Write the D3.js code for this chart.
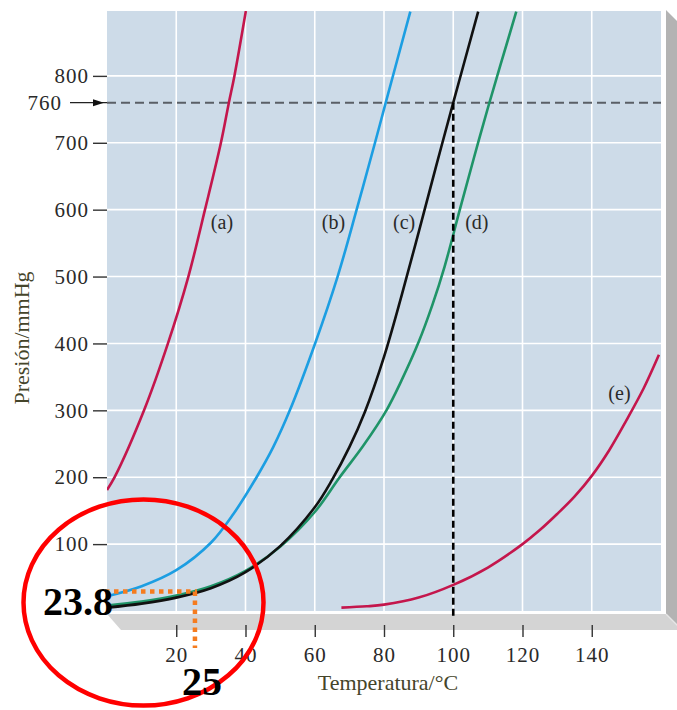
<!DOCTYPE html>
<html>
<head>
<meta charset="utf-8">
<script src="https://cdn.jsdelivr.net/npm/d3@7"></script>
<style>
  html, body { margin: 0; padding: 0; background: #ffffff; }
  svg { display: block; }
</style>
</head>
<body>
<div id="chart"></div>
<script>
// ---------- data ----------
const xTicks = [20, 40, 60, 80, 100, 120, 140];
const yTicks = [100, 200, 300, 400, 500, 600, 700, 800];
const refPressure = 760;        // normal atmospheric pressure
const refTemp = 100;            // boiling point of curve (c)

const tempA = [0, 2.2, 10.7, 17.6, 23.5, 28.3, 32.9, 35.2, 36.8, 40.1];
const presA = [181, 200, 300, 400, 500, 600, 700, 760, 800, 897];

const tempB = [0, 10, 20, 30, 36.5, 43.2, 48, 52.8, 60.1, 66.6, 72.1, 77.4, 80.5, 87.6];
const presB = [22, 37, 61, 102, 145, 200, 245, 300, 400, 500, 600, 700, 760, 896];

const tempC = [0, 10, 20, 30, 40, 50, 60, 65, 70, 74.5, 80, 85, 90, 95, 100, 107.2];
const presC = [5, 11, 20, 34, 58, 97, 155, 196, 245, 298, 380, 470, 566, 664, 760, 896];

const tempD = [0, 10, 20, 30, 40, 50, 60, 67.2, 74, 80.7, 85, 90, 94, 97.5, 101.9, 106, 110, 118.2];
const presD = [8, 14, 23, 37, 60, 96, 148, 200, 247, 300, 344, 402, 458, 515, 600, 678, 752, 896];

const tempE = [67.7, 75, 80, 90, 100, 110, 120, 125, 130, 135, 140, 145, 150, 155, 159.4];
const presE = [5, 7, 9.5, 20, 39, 65, 100, 121, 145, 171, 202, 240, 285, 333, 383];

const seriesLabels = ["(a)", "(b)", "(c)", "(d)", "(e)"];
const labelTemp = [33.2, 65.4, 85.8, 106.8, 148];
const labelPres = [581, 581, 581, 581, 326];

const markTemp = 25.4, markPres = 29;   // annotated point
const markPresText = "23.8", markTempText = "25";

const yTitle = "Presión/mmHg";
const xTitle = "Temperatura/°C";

// ---------- layout ----------
const W = 677, H = 710;
const serif = "'Liberation Serif','Times New Roman',Times,serif";

const x = d3.scaleLinear().domain([0, 160]).range([107, 661]);
const y = d3.scaleLinear().domain([0, 900]).range([611, 9]);

const svg = d3.select("#chart").append("svg")
  .attr("width", W).attr("height", H);

const px0 = x(0), px1 = x(160), pyTop = y(897), pyBot = y(0);

// 3D box: floor and right wall
svg.append("polygon")
  .attr("points", [[px0, pyBot + 3], [px1 + 5, pyBot + 3], [px1 + 21, pyBot + 19], [px0 + 14, pyBot + 19]].map(p => p.join(",")).join(" "))
  .attr("fill", "#d4d4d4");
svg.append("polygon")
  .attr("points", [[px1 + 5, pyTop - 1], [px1 + 21, pyTop + 15], [px1 + 21, pyBot + 19], [px1 + 5, pyBot + 3]].map(p => p.join(",")).join(" "))
  .attr("fill", "#b3b3b3");
svg.append("line")
  .attr("x1", px1 + 5).attr("y1", pyBot + 3).attr("x2", px1 + 21).attr("y2", pyBot + 19)
  .attr("stroke", "#e6e6e6").attr("stroke-width", 1.5);

// plot face
svg.append("rect")
  .attr("x", px0).attr("y", pyTop)
  .attr("width", px1 - px0).attr("height", pyBot - pyTop)
  .attr("fill", "#cddbe8");

// grid
const grid = svg.append("g").attr("stroke", "#ffffff").attr("stroke-width", 1.6);
grid.selectAll("line.v").data(xTicks).join("line")
  .attr("x1", d => x(d)).attr("x2", d => x(d))
  .attr("y1", pyTop).attr("y2", pyBot);
grid.selectAll("line.h").data(yTicks).join("line")
  .attr("x1", px0).attr("x2", px1)
  .attr("y1", d => y(d)).attr("y2", d => y(d));

// clip
svg.append("clipPath").attr("id", "plotclip")
  .append("rect").attr("x", px0).attr("y", pyTop)
  .attr("width", px1 - px0).attr("height", pyBot - pyTop);

// axes
const xAxis = d3.axisBottom(x).tickValues(xTicks).tickSize(12).tickPadding(10).tickFormat(d3.format("d"));
const gx = svg.append("g").attr("transform", `translate(0,${pyBot + 14})`).call(xAxis);
gx.select(".domain").remove();
gx.selectAll(".tick line").attr("stroke", "#333").attr("stroke-width", 1.4);
gx.selectAll(".tick text").attr("font-family", serif).attr("font-size", 21).attr("fill", "#2a2a2a")
  .attr("letter-spacing", 1);

const yAxis = d3.axisLeft(y).tickValues(yTicks).tickSize(14).tickPadding(4).tickFormat(d3.format("d"));
const gy = svg.append("g").attr("transform", `translate(${px0},0)`).call(yAxis);
gy.select(".domain").remove();
gy.selectAll(".tick line").attr("stroke", "#333").attr("stroke-width", 1.4);
gy.selectAll(".tick text").attr("font-family", serif).attr("font-size", 21).attr("fill", "#2a2a2a")
  .attr("letter-spacing", 1);

// 760 reference
const yr = y(refPressure);
svg.append("text").attr("x", 62).attr("y", yr).attr("dy", "0.34em")
  .attr("text-anchor", "end").attr("font-family", serif).attr("font-size", 21)
  .attr("letter-spacing", 1).attr("fill", "#2a2a2a").text(String(refPressure));
svg.append("line").attr("x1", 70).attr("x2", px0).attr("y1", yr).attr("y2", yr)
  .attr("stroke", "#222").attr("stroke-width", 1.4);
svg.append("polygon")
  .attr("points", `${px0 - 14},${yr - 3.5} ${px0 - 3},${yr} ${px0 - 14},${yr + 3.5}`)
  .attr("fill", "#111");
svg.append("line").attr("x1", px0).attr("x2", px1).attr("y1", yr).attr("y2", yr)
  .attr("stroke", "#5a5f66").attr("stroke-width", 2).attr("stroke-dasharray", "9,5");

// curves
const series = [
  { t: tempA, p: presA, color: "#c4164c" },
  { t: tempB, p: presB, color: "#1c9ee2" },
  { t: tempC, p: presC, color: "#111111" },
  { t: tempD, p: presD, color: "#1f9468" },
  { t: tempE, p: presE, color: "#c4164c" }
];
const line = d3.line().x(d => x(d[0])).y(d => y(d[1])).curve(d3.curveCatmullRom.alpha(0.5));
const curves = svg.append("g").attr("clip-path", "url(#plotclip)");
// green before black so black sits on top where they overlap
[0, 1, 3, 2, 4].forEach(i => {
  const s = series[i];
  curves.append("path")
    .datum(s.t.map((t, k) => [t, s.p[k]]))
    .attr("fill", "none").attr("stroke", s.color).attr("stroke-width", 2.6)
    .attr("stroke-linejoin", "round").attr("d", line);
});

// vertical dashed line at boiling point
svg.append("line").attr("x1", x(refTemp)).attr("x2", x(refTemp))
  .attr("y1", yr).attr("y2", pyBot + 7)
  .attr("stroke", "#000").attr("stroke-width", 2.6).attr("stroke-dasharray", "7,4");

// series labels
svg.append("g").selectAll("text").data(seriesLabels).join("text")
  .attr("x", (d, i) => x(labelTemp[i])).attr("y", (d, i) => y(labelPres[i]))
  .attr("dy", "0.35em").attr("text-anchor", "middle")
  .attr("font-family", serif).attr("font-size", 20).attr("fill", "#2a2a2a")
  .text(d => d);

// axis titles
svg.append("text").attr("x", 388).attr("y", 690).attr("text-anchor", "middle")
  .attr("font-family", serif).attr("font-size", 22).attr("fill", "#45452a")
  .text(xTitle);
svg.append("text").attr("transform", "translate(29,338) rotate(-90)")
  .attr("text-anchor", "middle")
  .attr("font-family", serif).attr("font-size", 22).attr("fill", "#45452a")
  .text(yTitle);

// annotation: orange dotted guide lines
const mx = x(markTemp), my = y(markPres);
svg.append("line").attr("x1", px0 - 2).attr("x2", mx + 2).attr("y1", my).attr("y2", my)
  .attr("stroke", "#f57c1f").attr("stroke-width", 4.5).attr("stroke-dasharray", "4.5,4.5");
svg.append("line").attr("x1", mx).attr("x2", mx).attr("y1", my).attr("y2", 648)
  .attr("stroke", "#f57c1f").attr("stroke-width", 4.5).attr("stroke-dasharray", "4.5,4.5");

// red ellipse
svg.append("ellipse").attr("cx", 143.5).attr("cy", 602.5).attr("rx", 120).attr("ry", 103)
  .attr("fill", "none").attr("stroke", "#ff0000").attr("stroke-width", 4.5);

// big labels
svg.append("text").attr("x", 113).attr("y", 615).attr("text-anchor", "end")
  .attr("font-family", serif).attr("font-weight", "bold").attr("font-size", 40).attr("fill", "#000")
  .text(markPresText);
svg.append("text").attr("x", 202).attr("y", 695).attr("text-anchor", "middle")
  .attr("font-family", serif).attr("font-weight", "bold").attr("font-size", 40).attr("fill", "#000")
  .text(markTempText);
</script>
</body>
</html>
